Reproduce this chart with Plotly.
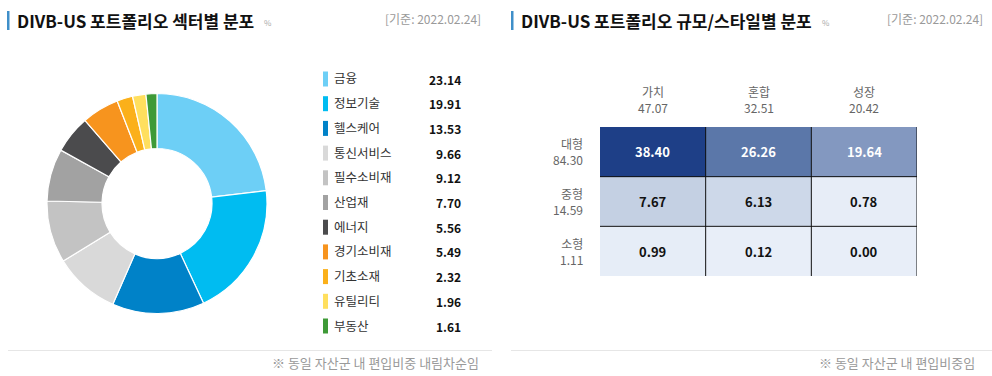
import plotly.graph_objects as go

W, H = 992, 376
FONT = "Noto Sans CJK KR"

# ---- data ----
sectors = ["금융", "정보기술", "헬스케어", "통신서비스", "필수소비재", "산업재",
           "에너지", "경기소비재", "기초소재", "유틸리티", "부동산"]
sector_weights = [23.14, 19.91, 13.53, 9.66, 9.12, 7.70, 5.56, 5.49, 2.32, 1.96, 1.61]
sector_colors = ["#6dcff6", "#00bcf1", "#0082c8", "#d9d9d9", "#c3c3c3", "#a2a2a2",
                 "#4b4b4d", "#f7941e", "#fbb01a", "#ffdf5e", "#3e9a37"]

styles = ["가치", "혼합", "성장"]
style_totals = [47.07, 32.51, 20.42]
sizes = ["대형", "중형", "소형"]
size_totals = [84.30, 14.59, 1.11]
style_matrix = [[38.40, 26.26, 19.64],
                [7.67, 6.13, 0.78],
                [0.99, 0.12, 0.00]]

left_title = "DIVB-US 포트폴리오 섹터별 분포"
right_title = "DIVB-US 포트폴리오 규모/스타일별 분포"
date_label = "[기준: 2022.02.24]"
left_note = "※ 동일 자산군 내 편입비중 내림차순임"
right_note = "※ 동일 자산군 내 편입비중임"


def px(x):
    return x / W


def py(y):
    return 1 - y / H


fig = go.Figure()

# donut
fig.add_trace(go.Pie(
    labels=sectors, values=sector_weights, sort=False, direction="clockwise",
    hole=0.5, textinfo="none", hoverinfo="skip", showlegend=False,
    marker=dict(colors=sector_colors, line=dict(color="white", width=1.2)),
    domain=dict(x=[px(47), px(267)], y=[py(313.5), py(93.5)]),
))

# heatmap
colorscale = [[0, "#e8eef8"], [0.03, "#e6edf7"], [0.16, "#cdd8e9"], [0.2, "#c4d0e3"],
              [0.51, "#8398c0"], [0.68, "#5c78a9"], [1, "#1e3f87"]]
fig.add_trace(go.Heatmap(
    z=style_matrix, x=styles, y=sizes, colorscale=colorscale, zmin=0, zmax=38.4,
    showscale=False, hoverinfo="skip", xaxis="x", yaxis="y",
))

fig.update_layout(
    width=W, height=H, margin=dict(l=0, r=0, t=0, b=0),
    paper_bgcolor="white", plot_bgcolor="white",
    font=dict(family=FONT),
    xaxis=dict(domain=[px(600), px(917)], range=[-0.5, 2.5], showticklabels=False,
               showgrid=False, zeroline=False, fixedrange=True),
    yaxis=dict(domain=[py(276), py(127)], range=[2.5, -0.5], showticklabels=False,
               showgrid=False, zeroline=False, fixedrange=True),
)

shapes = []
annotations = []

# heatmap grid lines
for xv in [0.5, 1.5, 2.5]:
    shapes.append(dict(type="line", xref="x", yref="y", x0=xv, x1=xv, y0=-0.5, y1=2.5,
                       line=dict(color="#111111", width=1)))
for yv in [0.5, 1.5]:
    shapes.append(dict(type="line", xref="x", yref="y", x0=-0.5, x1=2.5, y0=yv, y1=yv,
                       line=dict(color="#111111", width=1)))

# cell texts
for i, row in enumerate(style_matrix):
    for j, v in enumerate(row):
        annotations.append(dict(
            x=j, y=i, xref="x", yref="y", text=f"<b>{v:.2f}</b>", showarrow=False,
            xanchor="center", yanchor="middle",
            font=dict(size=13, color="white" if v > 15 else "#111111", family=FONT)))

# column headers
for j, (s, t) in enumerate(zip(styles, style_totals)):
    annotations.append(dict(x=j, y=py(99.5), xref="x", yref="paper", showarrow=False,
                            xanchor="center", yanchor="middle",
                            text=f"{s}<br>{t:.2f}", align="center",
                            font=dict(size=12, color="#666666", family=FONT)))
# row headers
for i, (s, t) in enumerate(zip(sizes, size_totals)):
    annotations.append(dict(x=px(585), y=i, xref="paper", yref="y", showarrow=False,
                            xanchor="right", yanchor="middle",
                            text=f"{s}<br>{t:.2f}", align="right",
                            font=dict(size=12, color="#666666", family=FONT)))

# legend for donut
for k, (lab, val, col) in enumerate(zip(sectors, sector_weights, sector_colors)):
    yc = 79 + k * 24.7
    shapes.append(dict(type="rect", xref="paper", yref="paper",
                       x0=px(323), x1=px(328), y0=py(yc + 7.5), y1=py(yc - 7.5),
                       fillcolor=col, line=dict(width=0)))
    annotations.append(dict(x=px(332), y=py(yc - 1), xref="paper", yref="paper",
                            xanchor="left", yanchor="middle", showarrow=False, text=lab,
                            font=dict(size=12.5, color="#333333", family=FONT)))
    annotations.append(dict(x=px(463), y=py(yc), xref="paper", yref="paper",
                            xanchor="right", yanchor="middle", showarrow=False,
                            text=f"<b>{val:.2f}</b>",
                            font=dict(size=12, color="#111111", family=FONT)))

# titles
for bar_x, tx, title, pct_x, date_x in [(7, 15, left_title, 262, 483),
                                         (511, 519, right_title, 820, 985)]:
    shapes.append(dict(type="rect", xref="paper", yref="paper",
                       x0=px(bar_x), x1=px(bar_x + 2.5), y0=py(30), y1=py(11),
                       fillcolor="#3f8fc9", line=dict(width=0)))
    annotations.append(dict(x=px(tx), y=py(20), xref="paper", yref="paper",
                            xanchor="left", yanchor="middle", showarrow=False,
                            text=f"<b>{title}</b>",
                            font=dict(size=17, color="#111111", family=FONT)))
    annotations.append(dict(x=px(pct_x), y=py(22), xref="paper", yref="paper",
                            xanchor="left", yanchor="middle", showarrow=False, text="%",
                            font=dict(size=8, color="#aaaaaa", family=FONT)))
    annotations.append(dict(x=px(date_x), y=py(19), xref="paper", yref="paper",
                            xanchor="right", yanchor="middle", showarrow=False,
                            text=date_label,
                            font=dict(size=12, color="#9a9a9a", family=FONT)))

# footers
for x0, x1, note, nx in [(8, 492, left_note, 481), (511, 992, right_note, 977)]:
    shapes.append(dict(type="line", xref="paper", yref="paper", x0=px(x0), x1=px(x1),
                       y0=py(350.5), y1=py(350.5), line=dict(color="#e6e6e6", width=1)))
    annotations.append(dict(x=px(nx), y=py(362), xref="paper", yref="paper",
                            xanchor="right", yanchor="middle", showarrow=False, text=note,
                            font=dict(size=13, color="#9a9a9a", family=FONT)))

fig.update_layout(shapes=shapes, annotations=annotations)
fig.write_html("out.html", config={"displayModeBar": False},
               post_script="document.body.style.margin='0';document.body.style.overflow='hidden';")
